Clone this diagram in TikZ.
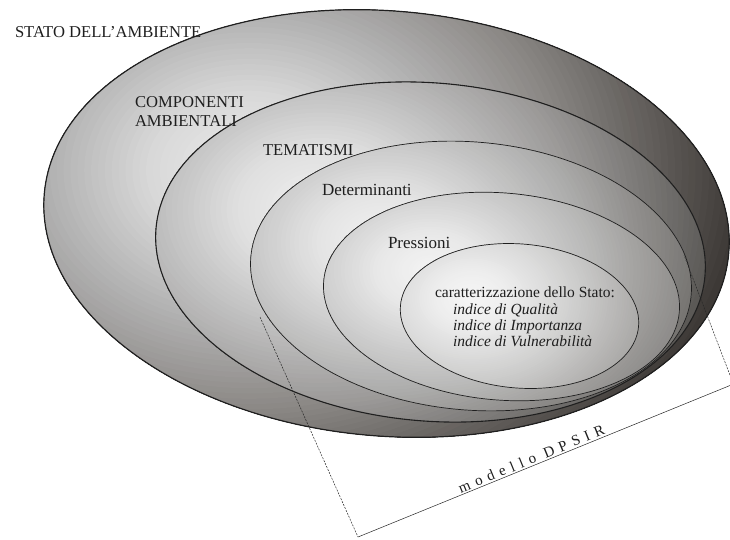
\documentclass[tikz,border=0pt]{standalone}
\usepackage{fontspec}
\setmainfont{Liberation Serif}
\usetikzlibrary{shapes.geometric}
\newcommand{\mkgrad}[7]{%
 \definecolor{#1a}{HTML}{#2}\definecolor{#1b}{HTML}{#3}\definecolor{#1c}{HTML}{#4}%
 \definecolor{#1d}{HTML}{#5}\definecolor{#1e}{HTML}{#6}\definecolor{#1f}{HTML}{#7}}
\mkgrad{gA}{ECECEC}{D8D8D8}{B0B0B0}{8C8986}{676360}{3C3835}
\mkgrad{gB}{F0F0F0}{E0E0E0}{BEBEBE}{9E9C9B}{7E7C7A}{5A5855}
\mkgrad{gC}{F2F2F2}{E4E4E4}{C8C8C8}{ACACAB}{92908E}{767471}
\mkgrad{gD}{F4F4F4}{E8E8E8}{D0D0D0}{BABAB9}{A5A4A2}{8E8C8A}
\mkgrad{gE}{F6F6F6}{EEEEEE}{DEDEDE}{CDCDCC}{BDBCBB}{AAA9A7}
\newcommand{\setgrad}[2]{%
 \pgfmathsetmacro{\gdd}{#2}%
 \ifdim\gdd pt<0.3pt
   \pgfmathsetmacro{\gp}{100*(0.3-\gdd)/0.3}\colorlet{cur}{#1a!\gp!#1b}%
 \else\ifdim\gdd pt<0.6pt
   \pgfmathsetmacro{\gp}{100*(0.6-\gdd)/0.3}\colorlet{cur}{#1b!\gp!#1c}%
 \else\ifdim\gdd pt<0.9pt
   \pgfmathsetmacro{\gp}{100*(0.9-\gdd)/0.3}\colorlet{cur}{#1c!\gp!#1d}%
 \else\ifdim\gdd pt<1.15pt
   \pgfmathsetmacro{\gp}{100*(1.15-\gdd)/0.25}\colorlet{cur}{#1d!\gp!#1e}%
 \else\ifdim\gdd pt<1.45pt
   \pgfmathsetmacro{\gp}{100*(1.45-\gdd)/0.3}\colorlet{cur}{#1e!\gp!#1f}%
 \else \colorlet{cur}{#1f}%
 \fi\fi\fi\fi\fi}
\newcommand{\gradfill}[5]{%
 \begin{scope}
 \clip[rotate around={-5:(#2,#3)}] (#2,#3) ellipse [x radius=#4pt, y radius=#5pt];
 \foreach \k in {80,79,...,1}{%
   \pgfmathsetmacro{\gd}{\k/50}%
   \setgrad{#1}{\gd}%
   \fill[cur] ({#2-0.4*#4},{#3-0.25*#5}) ellipse [x radius={\gd*#4*1pt}, y radius={\gd*1.25*#5*1pt}];
 }
 \end{scope}}
\definecolor{ink}{HTML}{1E1E1E}
\tikzset{
 ell/.style={ellipse, inner sep=0pt, outer sep=0pt, draw=black!88, rotate=-5},
 lbl/.style={inner sep=0pt, outer sep=0pt, text=ink, anchor=base west},
 capl/.style={lbl, font=\fontsize{16.6pt}{19pt}\selectfont},
 midl/.style={lbl, font=\fontsize{17pt}{19pt}\selectfont},
 smal/.style={lbl, align=left, font=\fontsize{15.5pt}{16.2pt}\selectfont},
 dpsirside/.style={line width=0.5pt, draw=black!85, dash pattern=on 2pt off 1.2pt},
 dpsirbase/.style={line width=0.5pt, draw=black!85},
}
\begin{document}
\begin{tikzpicture}[x=1pt,y=-1pt]
\useasboundingbox (0,0) rectangle (730,539);
\clip (0,0) rectangle (730,539);
\gradfill{gA}{386.5}{223.5}{343.5}{212.5}
\node[ell, line width=1.2pt, minimum width=687pt, minimum height=425pt] (e1) at (386.5,223.5) {};
\gradfill{gB}{430.5}{252}{275.5}{169}
\node[ell, line width=1.1pt, minimum width=551pt, minimum height=338pt] (e2) at (430.5,252) {};
\gradfill{gC}{471}{276}{221}{134}
\node[ell, line width=0.7pt, minimum width=442pt, minimum height=268pt] (e3) at (471,276) {};
\gradfill{gD}{501.5}{296.5}{178.5}{103.5}
\node[ell, line width=0.7pt, minimum width=357pt, minimum height=207pt] (e4) at (501.5,296.5) {};
\gradfill{gE}{519.5}{316}{119.5}{72}
\node[ell, line width=0.7pt, minimum width=239pt, minimum height=144pt] (e5) at (519.5,316) {};
\node[capl] (stato) at (15,37) {STATO DELL’AMBIENTE};
\node[capl, align=left] (comp) at (135,126) {COMPONENTI\\AMBIENTALI};
\node[capl] (tema) at (263,155) {TEMATISMI};
\node[midl] (det) at (322,195) {Determinanti};
\node[midl] (press) at (388,248) {Pressioni};
\node[smal] (car) at (435,346.5) {caratterizzazione dello Stato:\\
 \hspace*{18pt}\textit{indice di Qualità}\\
 \hspace*{18pt}\textit{indice di Importanza}\\
 \hspace*{18pt}\textit{indice di Vulnerabilità}};
\coordinate (lt) at (260,317);
\coordinate (bl) at (358,537);
\coordinate (br) at (733.4,384.1);
\coordinate (rt) at (684,255);
\draw[dpsirside] (lt) -- (bl);
\draw[dpsirbase] (bl) -- (br);
\draw[dpsirside] (br) -- (rt);
\node[inner sep=0pt, anchor=base, rotate=22.2, text=ink, font=\fontsize{15pt}{17pt}\selectfont\addfontfeature{LetterSpace=37}] (dpsir) at (533.3,463.5) {modello DPSIR};
\end{tikzpicture}
\end{document}
